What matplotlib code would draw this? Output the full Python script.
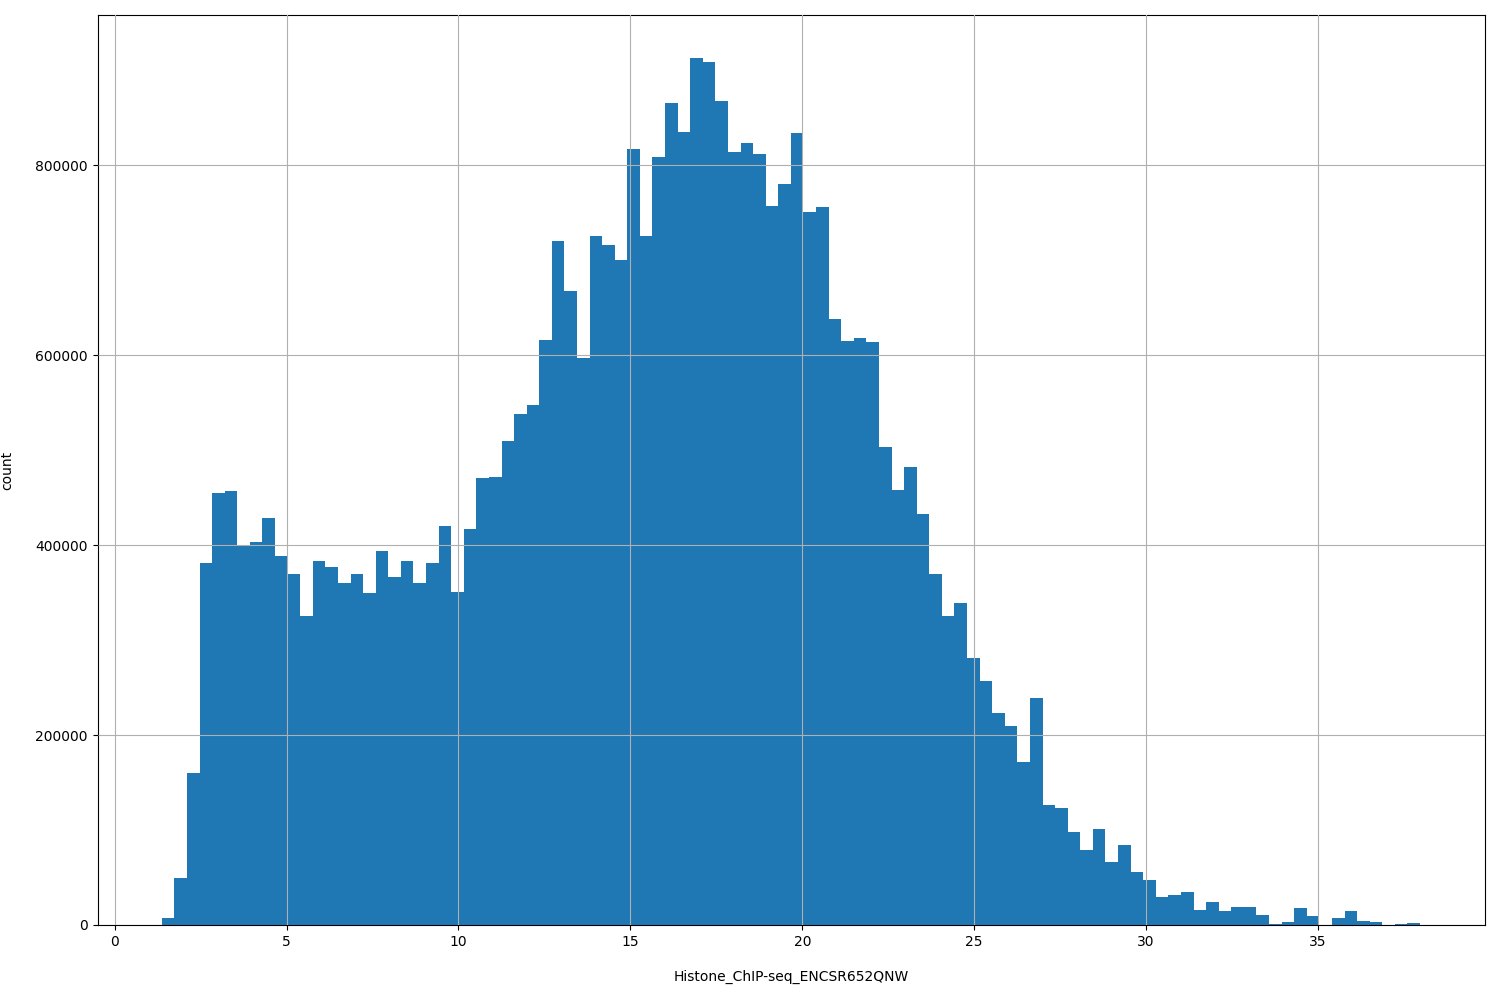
import numpy as np
import matplotlib
matplotlib.use("Agg")
import matplotlib.pyplot as plt

start = 1.37
width = 0.366
counts_k = [7,50,160,381,455,457,400,403,428,388,
            369,325,383,377,360,369,349,394,366,383,
            360,381,420,351,417,471,472,510,538,547,
            616,720,667,597,725,716,700,817,725,809,
            865,835,913,908,867,814,823,812,757,780,
            834,751,756,638,615,618,614,503,458,482,
            433,370,325,339,281,257,223,209,172,239,
            126,123,98,79,101,66,84,56,47,29,
            32,35,16,24,15,19,19,11,1,3,
            18,9,0,7,15,4,3,0,1,2]
counts = np.array(counts_k) * 1000
edges = start + width * np.arange(len(counts) + 1)
centers = (edges[:-1] + edges[1:]) / 2

fig = plt.figure(figsize=(15, 10), dpi=100)
ax = fig.add_axes([0.065, 0.075, 0.925, 0.91])
ax.hist(centers, bins=edges, weights=counts, color="#1f77b4")
ax.grid(True)
ax.set_axisbelow(False)
ax.set_xlim(-0.5, 39.86)
ax.set_ylim(0, 958000)
ax.set_xlabel("Histone_ChIP-seq_ENCSR652QNW", labelpad=15)
ax.set_ylabel("count", labelpad=15)
fig.savefig("out.png")
